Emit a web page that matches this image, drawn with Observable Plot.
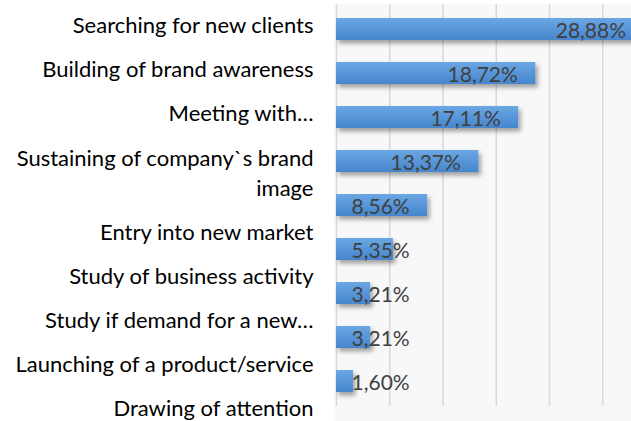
<!DOCTYPE html>
<html>
<head>
<meta charset="utf-8">
<script src="https://cdn.jsdelivr.net/npm/d3@7"></script>
<script src="https://cdn.jsdelivr.net/npm/@observablehq/plot@0.6"></script>
<style>
  html, body { margin: 0; padding: 0; background: white; overflow: hidden; }
</style>
</head>
<body>
<div id="chart"></div>
<script>
const categories = [
  "Searching for new clients",
  "Building of brand awareness",
  "Meeting with…",
  "Sustaining of company`s brand image",
  "Entry into new market",
  "Study of business activity",
  "Study if demand for a new…",
  "Launching of a product/service",
  "Drawing of attention"
];
const values = [28.88, 18.72, 17.11, 13.37, 8.56, 5.35, 3.21, 3.21, 1.60];
const gridTicks = [0, 5, 10, 15, 20, 25, 30];

const data = categories.map((c, i) => ({
  category: c,
  value: values[i],
  index: i,
  label: values[i].toFixed(2).replace(".", ",") + "%"
}));

const labelStyle = {
  y: "category",
  text: "category",
  frameAnchor: "left",
  textAnchor: "end",
  dx: -21,
  fill: "#000000",
  fontSize: 22
};

const svg = Plot.plot({
  width: 631,
  height: 421,
  marginLeft: 334,
  marginRight: 0,
  marginTop: 4,
  marginBottom: 15,
  style: { fontFamily: "Lato, 'Open Sans', sans-serif", fontSize: "21px", background: "white", overflow: "hidden" },
  x: { domain: [0, 30], range: [336, 655.5], axis: null },
  y: { domain: categories, range: [3.8, 406.2], paddingInner: 0.51, paddingOuter: 0.25, axis: null },
  marks: [
    Plot.frame({ fill: "#f8f8f8", stroke: "none", insetBottom: -15 }),
    Plot.ruleX(gridTicks, { stroke: "#d9d9d9", strokeWidth: 1.5 }),
    Plot.barX(data, { x: "value", y: "category", fill: "url(#barGrad)" }),
    Plot.text(data.filter(d => d.value >= 8), {
      x: "value", y: "category", text: "label",
      textAnchor: "end", dx: -18, dy: 2, fill: "#404040", fontSize: 21
    }),
    Plot.text(data.filter(d => d.value < 8), {
      y: "category", text: "label", frameAnchor: "left",
      textAnchor: "start", dx: 17, dy: 2, fill: "#404040", fontSize: 21
    }),
    Plot.text(data.filter(d => d.index < 3), { ...labelStyle, dy: -3.7 }),
    Plot.text(data.filter(d => d.index === 3), { ...labelStyle, dy: 10, lineWidth: 16, lineHeight: 1.34 }),
    Plot.text(data.filter(d => d.index > 3), { ...labelStyle, dy: 27.5 })
  ]
});

const defs = d3.select(svg).insert("defs", ":first-child");
const grad = defs.append("linearGradient")
  .attr("id", "barGrad").attr("x1", 0).attr("y1", 0).attr("x2", 0).attr("y2", 1);
grad.append("stop").attr("offset", "0%").attr("stop-color", "#6ba7e3");
grad.append("stop").attr("offset", "100%").attr("stop-color", "#4585cd");
const filt = defs.append("filter").attr("id", "barShadow")
  .attr("x", "-20%").attr("y", "-40%").attr("width", "150%").attr("height", "200%");
filt.append("feDropShadow").attr("dx", 2.5).attr("dy", 3.5).attr("stdDeviation", 2)
  .attr("flood-color", "#000").attr("flood-opacity", 0.35);
d3.select(svg).selectAll("g[aria-label='bar'] rect").attr("filter", "url(#barShadow)");

document.getElementById("chart").appendChild(svg);
</script>
</body>
</html>
